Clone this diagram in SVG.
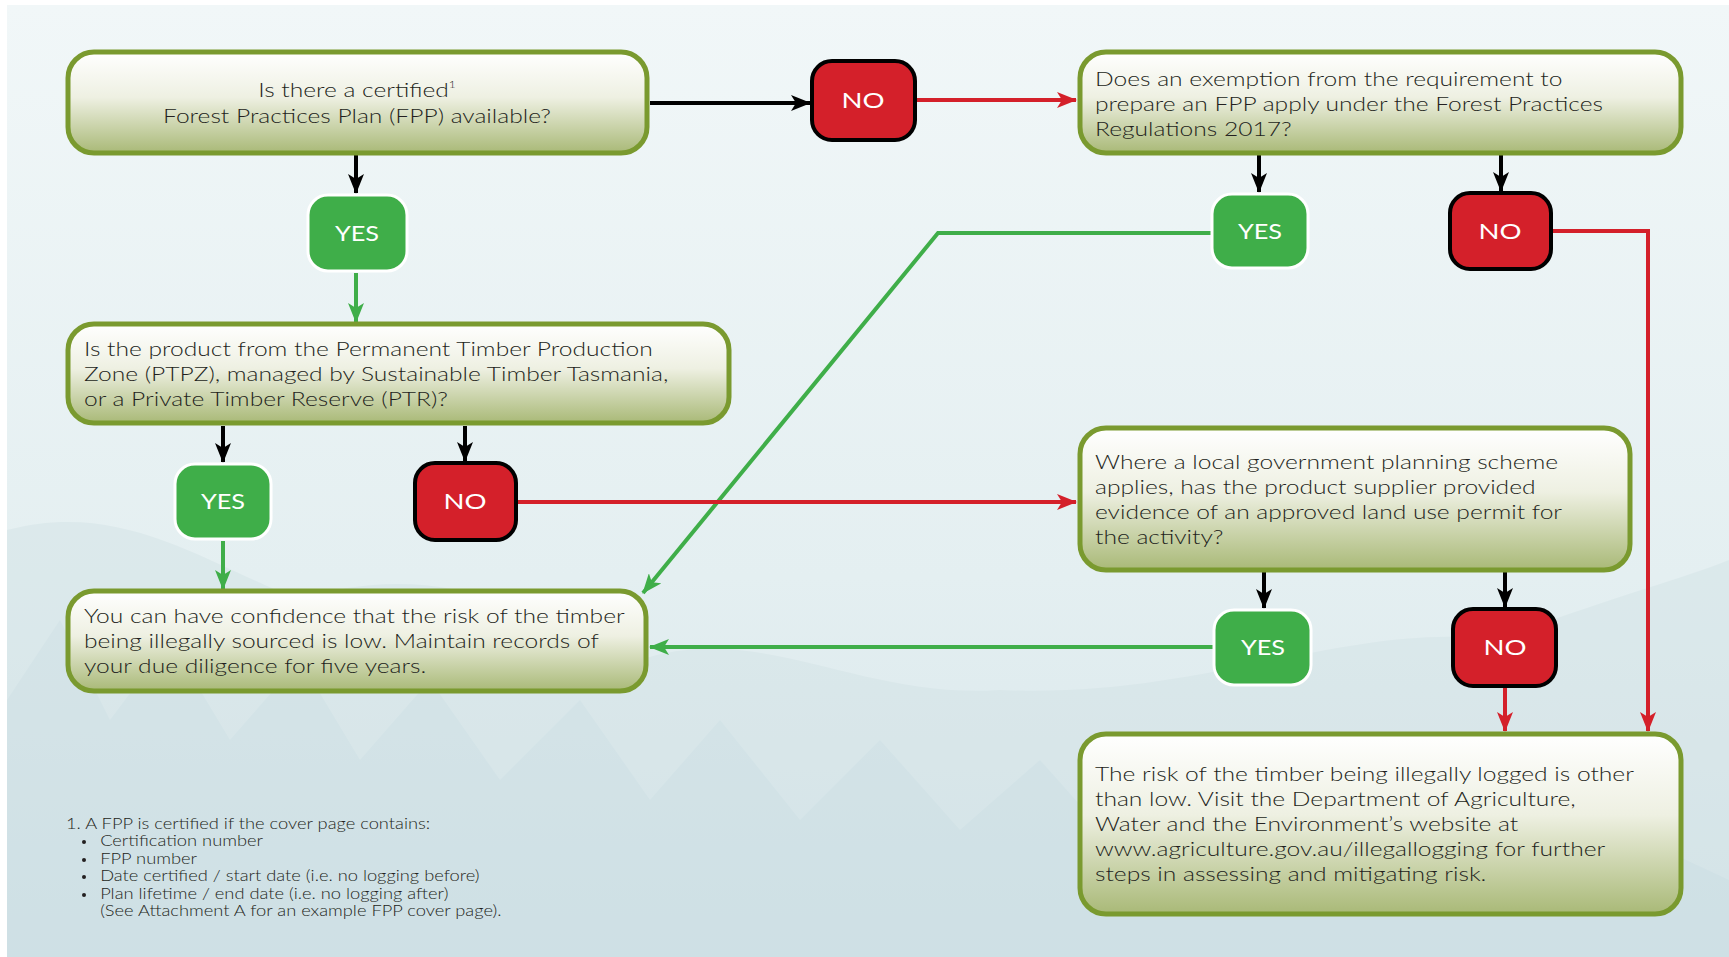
<svg xmlns="http://www.w3.org/2000/svg" width="1729" height="957" viewBox="0 0 1729 957">
<defs>
<linearGradient id="bg" x1="0" y1="0" x2="0" y2="1">
<stop offset="0" stop-color="#f1f7f8"/>
<stop offset="0.6" stop-color="#e4eff1"/>
<stop offset="1" stop-color="#d6e5ea"/>
</linearGradient>
<linearGradient id="boxg" x1="0" y1="0" x2="0" y2="1">
<stop offset="0" stop-color="#ffffff"/>
<stop offset="0.45" stop-color="#eef0e2"/>
<stop offset="1" stop-color="#a9b977"/>
</linearGradient>
<marker id="ak" viewBox="0 0 20 16" refX="19" refY="8" markerWidth="20" markerHeight="16" markerUnits="userSpaceOnUse" orient="auto"><path d="M0,0 L20,8 L0,16 L5,8 Z" fill="#000"/></marker>
<marker id="ar" viewBox="0 0 20 16" refX="19" refY="8" markerWidth="20" markerHeight="16" markerUnits="userSpaceOnUse" orient="auto"><path d="M0,0 L20,8 L0,16 L5,8 Z" fill="#d4202a"/></marker>
<marker id="ag" viewBox="0 0 20 16" refX="19" refY="8" markerWidth="20" markerHeight="16" markerUnits="userSpaceOnUse" orient="auto"><path d="M0,0 L20,8 L0,16 L5,8 Z" fill="#3fae49"/></marker>
<style>
.box{fill:url(#boxg);stroke:#7a9a2f;stroke-width:5}
.no{fill:#d4202a;stroke:#000;stroke-width:4}
.yes{fill:#3fae49;stroke:#ffffff;stroke-width:3}
.t{font-family:Lato,"Liberation Sans",sans-serif;font-size:20.5px;font-weight:300;fill:#231f20}
.lbl{font-family:Lato,"Liberation Sans",sans-serif;font-size:22px;fill:#ffffff;text-anchor:middle}
.fn{font-family:Lato,"Liberation Sans",sans-serif;font-size:15px;font-weight:300;fill:#231f20}
.ck{fill:none;stroke:#000;stroke-width:4}
.cr{fill:none;stroke:#d4202a;stroke-width:4}
.cg{fill:none;stroke:#3fae49;stroke-width:4}
</style>
</defs>
<rect width="1729" height="957" fill="#ffffff"/>
<rect x="7" y="5" width="1722" height="952" fill="url(#bg)"/>
<g id="background" opacity="0.45">
<path d="M7,530 C120,500 200,560 300,600 C420,560 520,600 640,660 C760,620 860,700 1000,690 C1200,700 1350,620 1500,640 C1600,600 1680,580 1729,560 L1729,957 L7,957 Z" fill="#d2e2e5"/>
<path d="M7,700 L60,620 L110,720 L170,640 L230,740 L300,660 L360,760 L430,680 L500,780 L580,700 L650,800 L720,720 L800,820 L880,740 L960,830 L1040,760 L1120,850 L1200,780 L1300,870 L1400,800 L1500,880 L1600,820 L1729,880 L1729,957 L7,957 Z" fill="#c6dadf"/>
</g>
<g id="connectors">
<line class="ck" x1="650" y1="103" x2="810" y2="103" marker-end="url(#ak)"/>
<line class="cr" x1="916" y1="100" x2="1076" y2="100" marker-end="url(#ar)"/>
<line class="ck" x1="356" y1="155" x2="356" y2="193" marker-end="url(#ak)"/>
<line class="cg" x1="356" y1="273" x2="356" y2="322" marker-end="url(#ag)"/>
<line class="ck" x1="1259" y1="155" x2="1259" y2="192" marker-end="url(#ak)"/>
<line class="ck" x1="1501" y1="155" x2="1501" y2="191" marker-end="url(#ak)"/>
<polyline class="cg" points="1211,233 938,233 643,593" marker-end="url(#ag)"/>
<polyline class="cr" points="1553,231 1648,231 1648,731" marker-end="url(#ar)"/>
<line class="ck" x1="223" y1="426" x2="223" y2="462" marker-end="url(#ak)"/>
<line class="ck" x1="465" y1="426" x2="465" y2="461" marker-end="url(#ak)"/>
<line class="cg" x1="223" y1="541" x2="223" y2="589" marker-end="url(#ag)"/>
<line class="cr" x1="518" y1="502" x2="1076" y2="502" marker-end="url(#ar)"/>
<line class="ck" x1="1264" y1="572" x2="1264" y2="608" marker-end="url(#ak)"/>
<line class="ck" x1="1505" y1="572" x2="1505" y2="607" marker-end="url(#ak)"/>
<line class="cg" x1="1213" y1="647" x2="650" y2="647" marker-end="url(#ag)"/>
<line class="cr" x1="1505" y1="688" x2="1505" y2="731" marker-end="url(#ar)"/>
</g>
<g id="q1"><rect class="box" x="68" y="52" width="579" height="101" rx="26"/>
<text class="t" text-anchor="middle" transform="translate(357,0) scale(1.2,1)"><tspan x="0" y="97">Is there a certified<tspan font-size="10" dy="-9">1</tspan></tspan><tspan x="0" y="123">Forest Practices Plan (FPP) available?</tspan></text></g>
<g id="no1"><rect class="no" x="812" y="61" width="103" height="79" rx="20"/><text class="lbl" transform="translate(863,0) scale(1.25,1)" x="0" y="108">NO</text></g>
<g id="q2"><rect class="box" x="1080" y="52" width="601" height="101" rx="26"/>
<text class="t" transform="translate(1095,0) scale(1.2,1)"><tspan x="0" y="86">Does an exemption from the requirement to</tspan><tspan x="0" y="111">prepare an FPP apply under the Forest Practices</tspan><tspan x="0" y="136">Regulations 2017?</tspan></text></g>
<g id="yes1"><rect class="yes" x="308" y="195" width="99" height="76" rx="20"/><text class="lbl" transform="translate(357,0) scale(1.15,1)" x="0" y="241">YES</text></g>
<g id="q3"><rect class="box" x="68" y="324" width="661" height="99" rx="26"/>
<text class="t" transform="translate(84,0) scale(1.2,1)"><tspan x="0" y="356">Is the product from the Permanent Timber Production</tspan><tspan x="0" y="381">Zone (PTPZ), managed by Sustainable Timber Tasmania,</tspan><tspan x="0" y="406">or a Private Timber Reserve (PTR)?</tspan></text></g>
<g id="yes2"><rect class="yes" x="1212" y="194" width="96" height="74" rx="20"/><text class="lbl" transform="translate(1260,0) scale(1.15,1)" x="0" y="239">YES</text></g>
<g id="no2"><rect class="no" x="1450" y="193" width="101" height="76" rx="20"/><text class="lbl" transform="translate(1500,0) scale(1.25,1)" x="0" y="239">NO</text></g>
<g id="yes3"><rect class="yes" x="175" y="464" width="96" height="75" rx="20"/><text class="lbl" transform="translate(223,0) scale(1.15,1)" x="0" y="509">YES</text></g>
<g id="no3"><rect class="no" x="415" y="463" width="101" height="77" rx="20"/><text class="lbl" transform="translate(465,0) scale(1.25,1)" x="0" y="509">NO</text></g>
<g id="q4"><rect class="box" x="1080" y="428" width="550" height="142" rx="26"/>
<text class="t" transform="translate(1095,0) scale(1.2,1)"><tspan x="0" y="469">Where a local government planning scheme</tspan><tspan x="0" y="494">applies, has the product supplier provided</tspan><tspan x="0" y="519">evidence of an approved land use permit for</tspan><tspan x="0" y="544">the activity?</tspan></text></g>
<g id="low"><rect class="box" x="68" y="591" width="578" height="100" rx="26"/>
<text class="t" transform="translate(84,0) scale(1.2,1)"><tspan x="0" y="623">You can have confidence that the risk of the timber</tspan><tspan x="0" y="648">being illegally sourced is low. Maintain records of</tspan><tspan x="0" y="673">your due diligence for five years.</tspan></text></g>
<g id="yes4"><rect class="yes" x="1214" y="610" width="97" height="75" rx="20"/><text class="lbl" transform="translate(1263,0) scale(1.15,1)" x="0" y="655">YES</text></g>
<g id="no4"><rect class="no" x="1453" y="609" width="103" height="77" rx="20"/><text class="lbl" transform="translate(1505,0) scale(1.25,1)" x="0" y="655">NO</text></g>
<g id="high"><rect class="box" x="1080" y="734" width="601" height="180" rx="26"/>
<text class="t" transform="translate(1095,0) scale(1.2,1)"><tspan x="0" y="781">The risk of the timber being illegally logged is other</tspan><tspan x="0" y="806">than low. Visit the Department of Agriculture,</tspan><tspan x="0" y="831">Water and the Environment’s website at</tspan><tspan x="0" y="856">www.agriculture.gov.au/illegallogging for further</tspan><tspan x="0" y="881">steps in assessing and mitigating risk.</tspan></text></g>
<g id="footnote"><text class="fn" transform="translate(66,0) scale(1.22,1)"><tspan x="0" y="829">1. A FPP is certified if the cover page contains:</tspan><tspan x="28" y="846">Certification number</tspan><tspan x="28" y="864">FPP number</tspan><tspan x="28" y="881">Date certified / start date (i.e. no logging before)</tspan><tspan x="28" y="899">Plan lifetime / end date (i.e. no logging after)</tspan><tspan x="28" y="916">(See Attachment A for an example FPP cover page).</tspan></text>
<g fill="#231f20"><circle cx="84" cy="842" r="2"/><circle cx="84" cy="860" r="2"/><circle cx="84" cy="877" r="2"/><circle cx="84" cy="895" r="2"/></g></g>
</svg>
